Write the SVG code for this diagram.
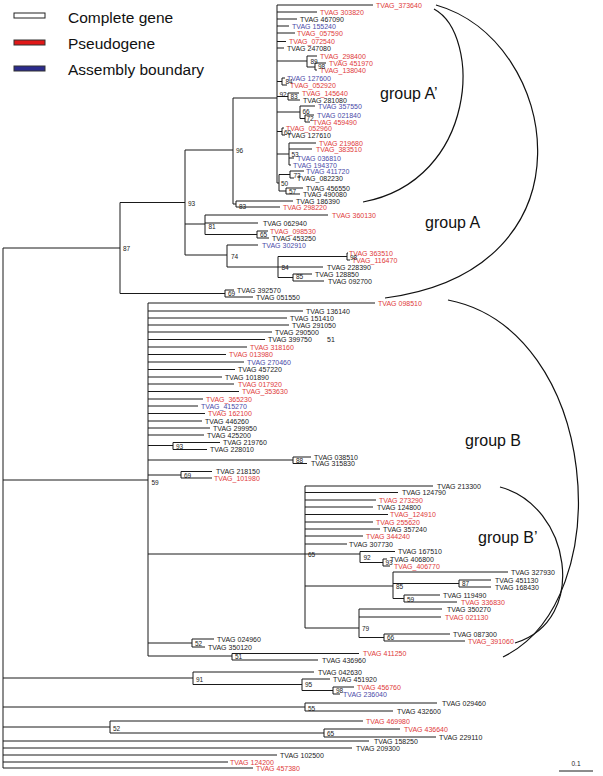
<svg xmlns="http://www.w3.org/2000/svg" width="603" height="776" viewBox="0 0 603 776">
<style>
.br{fill:none;stroke:#1a1a1a;stroke-width:1}
.arc{fill:none;stroke:#111;stroke-width:1.2}
text{font-family:"Liberation Sans",Arial,sans-serif}
.l{font-size:7px}
.k{fill:#1a1a1a}
.r{fill:#e03a3a}
.b{fill:#4a4aa8}
.bs{font-size:6.5px;fill:#1a1a1a}
.g{font-size:16px;fill:#111}
.lg{font-size:15.5px;fill:#111}
</style>
<rect width="603" height="776" fill="#fff"/>
<g id="legend">
<rect x="14" y="13" width="31" height="5" fill="#fff" stroke="#222" stroke-width="1"/>
<rect x="14" y="40" width="31" height="5" fill="#e01818" stroke="#333" stroke-width="1"/>
<rect x="14" y="66" width="31" height="5" fill="#2b2b8c" stroke="#333" stroke-width="1"/>
<text class="lg" x="68" y="23">Complete gene</text>
<text class="lg" x="68" y="49">Pseudogene</text>
<text class="lg" x="68" y="75">Assembly boundary</text>
</g>
<g id="connectors">
<path class="br" d="M3 248V768M3 248H120M120 202.5V293.5M120 202.5H185M185 150V255M185 150H233M233 98V204M233 98H277M277 5V183"/>
<path class="br" d="M277 5H373M277 12H317M277 19H297M277 26H289M277 33H295M277 41.5H286M277 48H284"/>
<path class="br" d="M277 61H307M307 56V67M307 56H317M307 67H315M315 63V70M315 63H326M315 70H317"/>
<path class="br" d="M277 81.5H282M282 78V85M282 78H285M282 85H287"/>
<path class="br" d="M277 96.5H288M288 93V100M288 93H299M288 100H300"/>
<path class="br" d="M277 112H300M300 106V118.5M300 106H315M300 118.5H305M305 115V122M305 115H314M305 122H310"/>
<path class="br" d="M277 131.5H282M282 128V135M282 128H284M282 135H285"/>
<path class="br" d="M277 154H289M289 143V165M289 143H316M289 149H312M289 158H294M289 165H291"/>
<path class="br" d="M277 183H279M279 174.5V191M279 174.5H290M290 171V178M290 171H304M290 178H294M279 191H286M286 188V194M286 188H303M286 194H300"/>
<path class="br" d="M233 204H236M236 201V207M236 201H293M236 207H280"/>
<path class="br" d="M185 224H205M205 215V234.5M205 215H328M205 223H258M205 234.5H257M257 231V238M257 231H268M257 238H269"/>
<path class="br" d="M185 255H227M227 245V267M227 245H258M227 267H323M278 256.5V277.5M278 256.5H347M347 253V260M347 253H348M347 260H350M278 277.5H293M293 274V281M293 274H312M293 281H324"/>
<path class="br" d="M120 293.5H225M225 290V297M225 290H234M225 297H253"/>
<path class="br" d="M3 480H148M148 303V656M148 303H375M148 311H303M148 318H287M148 325H289M148 332H272M148 339.5H265M148 347H247M148 354.5H226M148 362H244M148 369.5H235M148 377H222M148 384H234M148 391.5H239M148 399H203M148 406H198M148 413.5H205M148 421H202M148 428H210M148 435H204"/>
<path class="br" d="M148 445.5H173M173 442.5V449.5M173 442.5H220M173 449.5H207"/>
<path class="br" d="M148 460H293M293 457V463.5M293 457H311M293 463.5H307"/>
<path class="br" d="M148 475H181M181 471.5V478M181 471.5H212M181 478H212"/>
<path class="br" d="M148 554H305M305 486V628M305 486H433M305 492.5H398M305 500H376M305 507H373M305 514.5H388M305 522H373M305 529H380M305 536H363M305 544H347"/>
<path class="br" d="M305 554H360M360 551.5V562.5M360 551.5H395M360 562.5H383M383 559V566M383 559H387M383 566H390"/>
<path class="br" d="M305 586H393M393 572V598.5M393 572H508M393 583.5H459M459 580V587M459 580H491M459 587H491M393 598.5H404M404 595V602M404 595H440M404 602H457"/>
<path class="br" d="M305 628H359M359 609V637.5M359 609H442M359 617H441M359 637.5H384M384 634V641M384 634H450M384 641H465"/>
<path class="br" d="M148 643H192M192 639V647M192 639H214M192 647H205"/>
<path class="br" d="M148 656H232M232 653.5V660M232 653.5H359M232 660H318"/>
<path class="br" d="M3 678H193M193 672V684.5M193 672H314M193 684.5H302M302 679V690.5M302 679H330M302 690.5H333M333 687V694M333 687H354M333 694H340"/>
<path class="br" d="M3 707H305M305 703V711M305 703H437M305 711H393"/>
<path class="br" d="M3 727H110M110 721V733M110 721H363M110 733H324M324 729V737M324 729H400M324 737H436"/>
<path class="br" d="M3 741H369M3 748H352M3 755H277M3 762H228M3 768H253"/>
</g>
<g id="leaves-groupA" class="l">
<text class="r" x="376" y="7.5">TVAG_373640</text>
<text class="r" x="320" y="14.5">TVAG 303820</text>
<text class="k" x="300" y="21.5">TVAG 467090</text>
<text class="b" x="292" y="28.5">TVAG 155240</text>
<text class="r" x="297" y="35.5">TVAG_057590</text>
<text class="r" x="289" y="44">TVAG_072540</text>
<text class="k" x="287" y="50.5">TVAG 247080</text>
<text class="r" x="320" y="58.5">TVAG_298400</text>
<text class="r" x="329" y="65.5">TVAG 451970</text>
<text class="r" x="320" y="72.5">TVAG_138040</text>
<text class="b" x="287" y="80.5">TVAG 127600</text>
<text class="r" x="290" y="87.5">TVAG_052920</text>
<text class="r" x="302" y="95.5">TVAG_145640</text>
<text class="k" x="303" y="102.5">TVAG 281080</text>
<text class="b" x="318" y="108.5">TVAG 357550</text>
<text class="b" x="317" y="117.5">TVAG 021840</text>
<text class="r" x="313" y="124.5">TVAG 459490</text>
<text class="r" x="286" y="130.5">TVAG_052960</text>
<text class="k" x="287" y="137.5">TVAG 127610</text>
<text class="r" x="319" y="145.5">TVAG 219680</text>
<text class="r" x="316" y="151.5">TVAG_383510</text>
<text class="b" x="297" y="160.5">TVAG 036810</text>
<text class="b" x="293" y="167.5">TVAG 194370</text>
<text class="b" x="306" y="173.5">TVAG 411720</text>
<text class="k" x="297" y="180.5">TVAG_082230</text>
<text class="k" x="306" y="190.5">TVAG 456550</text>
<text class="k" x="303" y="196.5">TVAG 490080</text>
<text class="k" x="296" y="203.5">TVAG 186390</text>
<text class="r" x="283" y="209.5">TVAG 298220</text>
<text class="r" x="332" y="217.5">TVAG 360130</text>
<text class="k" x="263" y="225.5">TVAG 062940</text>
<text class="r" x="270" y="233.5">TVAG_098530</text>
<text class="k" x="272" y="240.5">TVAG 453250</text>
<text class="b" x="262" y="247.5">TVAG 302910</text>
<text class="r" x="349" y="255.5">TVAG 363510</text>
<text class="r" x="352" y="262.5">TVAG_116470</text>
<text class="k" x="327" y="270">TVAG 228390</text>
<text class="k" x="315" y="276.5">TVAG 128850</text>
<text class="k" x="328" y="283.5">TVAG 092700</text>
<text class="k" x="237" y="292.5">TVAG 392570</text>
<text class="k" x="256" y="299.5">TVAG 051550</text>
</g>
<g id="leaves-groupB" class="l">
<text class="r" x="378" y="305.5">TVAG 098510</text>
<text class="k" x="306" y="313.5">TVAG 136140</text>
<text class="k" x="290" y="320.5">TVAG 151410</text>
<text class="k" x="292" y="327.5">TVAG 291050</text>
<text class="k" x="275" y="334.5">TVAG 290500</text>
<text class="k" x="268" y="342">TVAG 399750</text>
<text class="k" x="327" y="342">51</text>
<text class="r" x="250" y="349.5">TVAG 318160</text>
<text class="r" x="229" y="357">TVAG 013980</text>
<text class="b" x="247" y="364.5">TVAG 270460</text>
<text class="k" x="238" y="372">TVAG 457220</text>
<text class="k" x="225" y="379.5">TVAG 101890</text>
<text class="r" x="238" y="386.5">TVAG 017920</text>
<text class="r" x="242" y="394">TVAG_353630</text>
<text class="r" x="206" y="401.5">TVAG_365230</text>
<text class="b" x="201" y="408.5">TVAG_415270</text>
<text class="r" x="208" y="416">TVAG 162100</text>
<text class="k" x="205" y="423.5">TVAG 446260</text>
<text class="k" x="213" y="430.5">TVAG 299950</text>
<text class="k" x="207" y="437.5">TVAG 425200</text>
<text class="k" x="223" y="445">TVAG 219760</text>
<text class="k" x="210" y="452">TVAG 228010</text>
<text class="k" x="314" y="459.5">TVAG 038510</text>
<text class="k" x="311" y="466">TVAG 315830</text>
<text class="k" x="216" y="474">TVAG 218150</text>
<text class="r" x="214" y="480.5">TVAG_101980</text>
<text class="k" x="437" y="488.5">TVAG 213300</text>
<text class="k" x="402" y="495">TVAG 124790</text>
<text class="r" x="379" y="502.5">TVAG 273290</text>
<text class="k" x="377" y="509.5">TVAG 124800</text>
<text class="r" x="390" y="517">TVAG_124910</text>
<text class="r" x="376" y="524.5">TVAG 255620</text>
<text class="k" x="383" y="531.5">TVAG 357240</text>
<text class="r" x="366" y="538.5">TVAG 344240</text>
<text class="k" x="349" y="546.5">TVAG 307730</text>
<text class="k" x="398" y="554">TVAG 167510</text>
<text class="k" x="390" y="561.5">TVAG 406800</text>
<text class="r" x="394" y="568.5">TVAG_406770</text>
<text class="k" x="511" y="574.5">TVAG 327930</text>
<text class="k" x="495" y="582.5">TVAG 451130</text>
<text class="k" x="495" y="589.5">TVAG 168430</text>
<text class="k" x="443" y="597.5">TVAG 119490</text>
<text class="r" x="461" y="604.5">TVAG 336830</text>
<text class="k" x="447" y="611.5">TVAG 350270</text>
<text class="r" x="445" y="619.5">TVAG 021130</text>
<text class="k" x="453" y="636.5">TVAG 087300</text>
<text class="r" x="468" y="643.5">TVAG_391060</text>
<text class="k" x="217" y="641.5">TVAG 024960</text>
<text class="k" x="208" y="649.5">TVAG 350120</text>
<text class="r" x="363" y="656">TVAG 411250</text>
<text class="k" x="322" y="662.5">TVAG 436960</text>
</g>
<g id="leaves-other" class="l">
<text class="k" x="318" y="674.5">TVAG 042630</text>
<text class="k" x="333" y="681.5">TVAG 451920</text>
<text class="r" x="357" y="689.5">TVAG 456760</text>
<text class="b" x="343" y="696.5">TVAG 236040</text>
<text class="k" x="442" y="705.5">TVAG 029460</text>
<text class="k" x="397" y="713.5">TVAG 432600</text>
<text class="r" x="366" y="723.5">TVAG 469980</text>
<text class="r" x="404" y="731.5">TVAG 436640</text>
<text class="k" x="439" y="739.5">TVAG 229110</text>
<text class="k" x="374" y="743.5">TVAG 158250</text>
<text class="k" x="356" y="750.5">TVAG 209300</text>
<text class="k" x="280" y="757.5">TVAG 102500</text>
<text class="r" x="230" y="764.5">TVAG 124200</text>
<text class="r" x="256" y="770.5">TVAG 457380</text>
</g>
<g id="bootstrap" class="bs">
<text x="123" y="251">87</text>
<text x="188" y="205.5">93</text>
<text x="236" y="153">96</text>
<text x="239" y="208.5">83</text>
<text x="208.5" y="228.5">81</text>
<text x="260" y="237">65</text>
<text x="231" y="259">74</text>
<text x="281.5" y="270">84</text>
<text x="350" y="259.5">98</text>
<text x="296" y="279">85</text>
<text x="228" y="296">69</text>
<text x="310.5" y="63.5">89</text>
<text x="318" y="69">98</text>
<text x="285.5" y="84">84</text>
<text x="279.5" y="97">92</text>
<text x="290.5" y="99">83</text>
<text x="302.5" y="113.5">66</text>
<text x="306.5" y="121">72</text>
<text x="284" y="134.5">60</text>
<text x="291.5" y="156.5">53</text>
<text x="293.5" y="178">73</text>
<text x="289" y="193.5">57</text>
<text x="281" y="185.5">50</text>
<text x="151.5" y="484.5">59</text>
<text x="176" y="448.5">93</text>
<text x="296" y="463">88</text>
<text x="184" y="477.5">69</text>
<text x="308" y="556.5">65</text>
<text x="363.5" y="559.5">92</text>
<text x="385.5" y="565">93</text>
<text x="396" y="589">85</text>
<text x="462" y="586">87</text>
<text x="407" y="601.5">59</text>
<text x="362" y="631">79</text>
<text x="387" y="640">66</text>
<text x="195" y="645.5">52</text>
<text x="235" y="659">51</text>
<text x="196" y="681.5">91</text>
<text x="305" y="686.5">95</text>
<text x="336" y="692.5">98</text>
<text x="308" y="710.5">55</text>
<text x="113" y="730.5">52</text>
<text x="327" y="735.5">65</text>
</g>
<g id="group-A-prime">
<path class="arc" d="M434 9C482 35 478 180 363 202"/>
<text class="g" x="380" y="99">group A’</text>
</g>
<g id="group-A">
<path class="arc" d="M436 5C560 40 600 270 385 298"/>
<text class="g" x="425" y="228">group A</text>
</g>
<g id="group-B">
<path class="arc" d="M448 300C600 330 620 600 503 657"/>
<text class="g" x="465" y="446">group B</text>
</g>
<g id="group-B-prime">
<path class="arc" d="M500 487C570 505 590 620 515 643"/>
<text class="g" x="478" y="543">group B’</text>
</g>
<g id="scale-bar">
<path class="br" d="M559 771H593"/>
<text class="bs" x="576" y="766" text-anchor="middle">0.1</text>
</g>
</svg>
